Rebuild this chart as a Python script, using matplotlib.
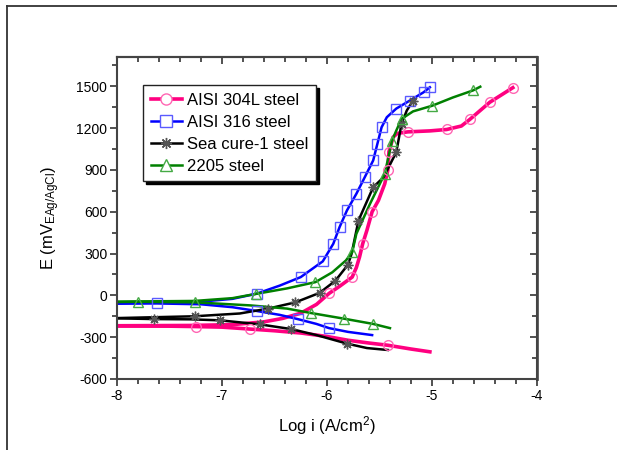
import matplotlib
matplotlib.use('Agg')
import matplotlib.pyplot as plt
from matplotlib.lines import Line2D
from matplotlib.ticker import MultipleLocator

plt.rcParams['font.family'] = ['Liberation Sans', 'DejaVu Sans']
plt.rcParams['mathtext.default'] = 'regular'
plt.rcParams['axes.unicode_minus'] = False

# AISI 304L steel
logi_304_cat = [-8.0, -7.5, -7.25, -7.0, -6.73, -6.5, -6.25, -6.0, -5.8, -5.6, -5.42, -5.2, -5.02]
e_304_cat = [-220, -221, -224, -228, -242, -254, -270, -295, -322, -342, -358, -385, -405]
logi_304_an = [-8.0, -7.3, -6.9, -6.6, -6.42, -6.25, -6.1, -5.98, -5.88, -5.76, -5.72, -5.69, -5.66,
               -5.62, -5.57, -5.51, -5.45, -5.42, -5.41, -5.37, -5.33, -5.23, -5.02, -4.86, -4.72,
               -4.64, -4.45, -4.23]
e_304_an = [-218, -216, -210, -190, -165, -128, -65, 14, 65, 131, 200, 275, 370,
            466, 600, 681, 800, 900, 1030, 1135, 1162, 1173, 1180, 1190, 1215,
            1262, 1385, 1490]
mk_304_cat = [2, 4, 10]
mk_304_an = [7, 9, 12, 14, 17, 18, 21, 23, 25, 26, 27]

# AISI 316 steel
logi_316_cat = [-8.0, -7.62, -7.2, -6.9, -6.67, -6.45, -6.28, -6.1, -5.98, -5.8, -5.57]
e_316_cat = [-60, -58, -64, -85, -112, -140, -170, -205, -235, -262, -285]
logi_316_an = [-8.0, -7.6, -7.2, -6.9, -6.67, -6.45, -6.25, -6.04, -5.94, -5.88, -5.81, -5.72,
               -5.64, -5.56, -5.52, -5.48, -5.43, -5.34, -5.21, -5.08, -5.02]
e_316_an = [-55, -52, -45, -25, 12, 70, 131, 244, 370, 490, 609, 729,
            848, 968, 1087, 1206, 1278, 1340, 1398, 1457, 1493]
mk_316_cat = [1, 4, 6, 8]
mk_316_an = [4, 6, 7, 8, 9, 10, 11, 12, 13, 14, 15, 17, 18, 19, 20]

# Sea cure-1 steel
logi_sc_cat = [-8.0, -7.65, -7.3, -7.02, -6.64, -6.34, -6.1, -5.81, -5.62, -5.42]
e_sc_cat = [-165, -170, -172, -179, -208, -242, -285, -346, -378, -392]
logi_sc_an = [-8.0, -7.26, -6.83, -6.56, -6.3, -6.07, -5.92, -5.8, -5.765, -5.7, -5.56, -5.46,
              -5.38, -5.34, -5.29, -5.24, -5.18]
e_sc_an = [-163, -150, -130, -95, -50, 18, 105, 220, 300, 537, 776, 848,
           968, 1027, 1230, 1326, 1398]
mk_sc_cat = [1, 3, 4, 5, 7]
mk_sc_an = [1, 3, 4, 5, 6, 7, 9, 10, 13, 14, 16]

# 2205 steel
logi_22_cat = [-8.0, -7.8, -7.26, -6.73, -6.38, -6.15, -5.84, -5.56, -5.4]
e_22_cat = [-48, -46, -50, -72, -95, -127, -167, -205, -235]
logi_22_an = [-8.0, -7.26, -6.9, -6.68, -6.38, -6.11, -5.95, -5.82, -5.76, -5.72, -5.59, -5.45,
              -5.38, -5.34, -5.29, -5.18, -5.0, -4.8, -4.61, -4.54]
e_22_an = [-45, -40, -20, 10, 50, 95, 165, 250, 310, 442, 657, 872,
           1111, 1182, 1266, 1320, 1360, 1420, 1470, 1497]
mk_22_cat = [1, 2, 5, 6, 7]
mk_22_an = [3, 5, 8, 11, 12, 14, 16, 18]

series = [
    ('AISI 304L steel', '#FF0080', '#FF66B3', 'o', 2.6,
     logi_304_cat, e_304_cat, mk_304_cat, logi_304_an, e_304_an, mk_304_an),
    ('AISI 316 steel', '#0000FF', '#5A5AFF', 's', 1.8,
     logi_316_cat, e_316_cat, mk_316_cat, logi_316_an, e_316_an, mk_316_an),
    ('Sea cure-1 steel', '#000000', '#555555', (8, 2, 0), 1.8,
     logi_sc_cat, e_sc_cat, mk_sc_cat, logi_sc_an, e_sc_an, mk_sc_an),
    ('2205 steel', '#008000', '#44AA44', '^', 1.8,
     logi_22_cat, e_22_cat, mk_22_cat, logi_22_an, e_22_an, mk_22_an),
]

fig = plt.figure(figsize=(6.17, 4.5), dpi=100)
ax = fig.add_axes([0.1896, 0.1578, 0.6807, 0.7155])

handles = []
for name, col, mcol, mk, lw, xc, yc, mc, xa, ya, ma in series:
    for xs, ys, me in ((xc, yc, mc), (xa, ya, ma)):
        ax.plot(xs, ys, color=col, lw=lw, zorder=2)
        ax.plot(xs, ys, ls='none', marker=mk, markevery=me, ms=7,
                mfc='none', mec=mcol, mew=1.0, zorder=3)
    handles.append(Line2D([0], [0], color=col, lw=lw, marker=mk, ms=8,
                          mfc='white', mec=mcol, mew=1.0))

ax.set_xlim(-8, -4)
ax.set_ylim(-600, 1710)
ax.xaxis.set_major_locator(MultipleLocator(1))
ax.xaxis.set_minor_locator(MultipleLocator(0.2))
ax.yaxis.set_major_locator(MultipleLocator(300))
ax.yaxis.set_minor_locator(MultipleLocator(150))
ax.tick_params(which='both', direction='out', labelsize=10, color='#333333', width=1.2, pad=2)
ax.tick_params(which='major', length=5)
ax.tick_params(which='minor', length=3.5)

for s in ax.spines.values():
    s.set_color('#444444')
    s.set_linewidth(1.5)

secx = ax.secondary_xaxis('top')
secx.xaxis.set_major_locator(MultipleLocator(1))
secx.xaxis.set_minor_locator(MultipleLocator(0.2))
secx.tick_params(which='both', direction='in', labeltop=False, color='#333333', width=1.2)
secx.tick_params(which='major', length=5)
secx.tick_params(which='minor', length=3.5)
secx.spines['top'].set_color('#444444')
secx.spines['top'].set_linewidth(1.5)

secy = ax.secondary_yaxis('right')
secy.yaxis.set_major_locator(MultipleLocator(300))
secy.yaxis.set_minor_locator(MultipleLocator(150))
secy.tick_params(which='both', direction='in', labelright=False, color='#333333', width=1.2)
secy.tick_params(which='major', length=5)
secy.tick_params(which='minor', length=3.5)
secy.spines['right'].set_color('#555555')
secy.spines['right'].set_linewidth(2.0)

ax.set_xlabel('Log i (A/cm$^{2}$)', fontsize=12, labelpad=8)
ax.set_ylabel('E (mV$_{EAg/AgCl}$)', fontsize=12)
ax.yaxis.set_label_coords(-0.13, 0.5)

leg = ax.legend(handles, [s[0] for s in series], loc='upper left',
                bbox_to_anchor=(0.062, 0.913), borderaxespad=0, fontsize=12,
                fancybox=False, shadow={'color': 'black', 'alpha': 1},
                edgecolor='#222222', framealpha=1, handlelength=1.9,
                handletextpad=0.3, labelspacing=0.42, borderpad=0.45, numpoints=1)
leg.get_frame().set_linewidth(1.0)

# outer frame
fx = 7 / 617
fy = 1 - 6 / 450
fig.add_artist(Line2D([fx, 1], [fy, fy], color='#333333', lw=1.3))
fig.add_artist(Line2D([fx, fx], [fy, 0], color='#333333', lw=1.3))

fig.savefig('out.png', dpi=100)
